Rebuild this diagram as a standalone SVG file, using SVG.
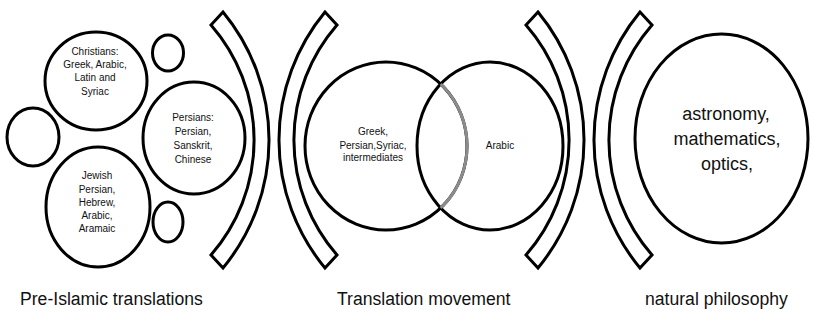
<svg xmlns="http://www.w3.org/2000/svg" width="813" height="320" viewBox="0 0 813 320">
<style>
.sh{fill:#fff;stroke:#000;stroke-width:3}
.br{fill:#fff;stroke:#000;stroke-width:3;stroke-linejoin:miter}
.t{font-family:"Liberation Sans",Arial,sans-serif;font-size:10px;fill:#111;text-anchor:middle}
.tb{font-family:"Liberation Sans",Arial,sans-serif;font-size:18px;fill:#111;text-anchor:middle}
.lbl{font-family:"Liberation Sans",Arial,sans-serif;font-size:17.6px;fill:#111}
</style>
<rect width="813" height="320" fill="#fff"/>
<g id="pre-islamic">
  <g id="christians"><ellipse class="sh" cx="96" cy="81" rx="51" ry="49"/>
    <text class="t"><tspan x="95" y="55">Christians:</tspan><tspan x="95" y="68">Greek, Arabic,</tspan><tspan x="95" y="81">Latin and</tspan><tspan x="95" y="95">Syriac</tspan></text></g>
  <g id="small-top"><ellipse class="sh" cx="168" cy="53" rx="15.5" ry="18"/></g>
  <g id="small-left"><ellipse class="sh" cx="33" cy="137" rx="26" ry="29"/></g>
  <g id="persians"><ellipse class="sh" cx="194" cy="138" rx="51" ry="56"/>
    <text class="t"><tspan x="193" y="121">Persians:</tspan><tspan x="193" y="135">Persian,</tspan><tspan x="193" y="149">Sanskrit,</tspan><tspan x="193" y="163">Chinese</tspan></text></g>
  <g id="jewish"><ellipse class="sh" cx="98" cy="207" rx="52" ry="60"/>
    <text class="t"><tspan x="97" y="179">Jewish</tspan><tspan x="97" y="193">Persian,</tspan><tspan x="97" y="206">Hebrew,</tspan><tspan x="97" y="219">Arabic,</tspan><tspan x="97" y="232">Aramaic</tspan></text></g>
  <g id="small-bottom"><ellipse class="sh" cx="168" cy="222" rx="15" ry="20"/></g>
</g>
<g id="brackets">
  <path id="bracket1" class="br" d="M223,12 A201,201 0 0 1 223,268 L211,255 A175,175 0 0 0 211,25 Z"/>
  <path id="bracket2" class="br" d="M325,12 A201,201 0 0 0 325,268 L337,255 A175,175 0 0 1 337,25 Z"/>
  <path id="bracket3" class="br" d="M538,12 A201,201 0 0 1 538,268 L526,255 A175,175 0 0 0 526,25 Z"/>
  <path id="bracket4" class="br" d="M640,12 A201,201 0 0 0 640,268 L652,255 A175,175 0 0 1 652,25 Z"/>
</g>
<g id="translation">
  <g id="source-langs"><ellipse cx="386" cy="146" rx="81" ry="84" fill="none" stroke="#000" stroke-width="3"/></g>
  <g id="arabic"><ellipse cx="490" cy="146" rx="73" ry="84" fill="none" stroke="#000" stroke-width="3"/></g>
  <path d="M440.7,84 A81,84 0 0 1 440.7,208" fill="none" stroke="#8c8c8c" stroke-width="3"/>
  <text class="t"><tspan x="373" y="135">Greek,</tspan><tspan x="373" y="149">Persian,Syriac,</tspan><tspan x="373" y="161">intermediates</tspan></text>
  <text class="t" x="500" y="149">Arabic</text>
</g>
<g id="natural-philosophy">
  <ellipse class="sh" cx="721.5" cy="138.5" rx="86.5" ry="104.5"/>
  <text class="tb"><tspan x="726" y="120">astronomy,</tspan><tspan x="727" y="145">mathematics,</tspan><tspan x="727" y="170">optics,</tspan></text>
</g>
<g id="labels">
  <text class="lbl" x="20" y="305">Pre-Islamic translations</text>
  <text class="lbl" x="337" y="305">Translation movement</text>
  <text class="lbl" x="645" y="305">natural philosophy</text>
</g>
</svg>
